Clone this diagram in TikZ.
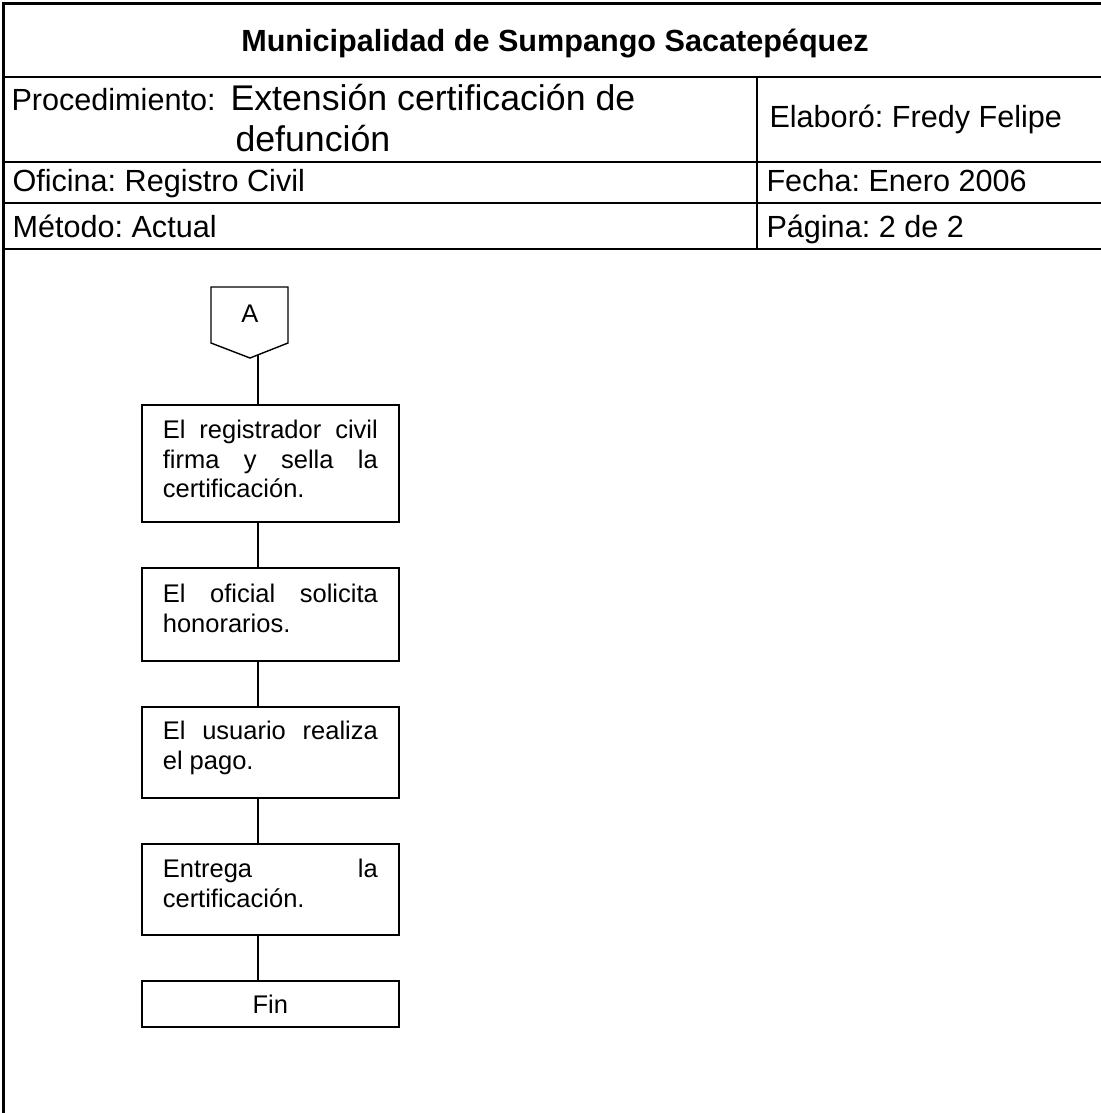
\documentclass[tikz,border=0pt]{standalone}
\usepackage{fontspec}
\setmainfont{Liberation Sans}
\frenchspacing
% one drawing unit of the sheet, used for TeX-side boxes
\newdimen\pxu
\pxu=0.39216pt
% justified step text: box height, first-baseline drop, text
\newcommand\flowtext[3]{%
  \parbox[c][#1\pxu][t]{215\pxu}{%
    \fontsize{10}{11.5}\selectfont
    \tolerance=10000 \hbadness=10000 \hyphenpenalty=10000 \exhyphenpenalty=10000
    \rule{0pt}{#2\pxu}#3\par}}
\begin{document}
\begin{tikzpicture}[x=0.39216pt, y=-0.39216pt,
  every node/.style={inner sep=0pt, font=\fontsize{12}{14}\selectfont},
  rule/.style={line width=1pt},
  cell/.style={anchor=base west},
  stepbox/.style={draw, line width=0.65pt, anchor=north west,
    inner xsep=8.235pt, inner ysep=0pt},
  endbox/.style={draw, line width=0.65pt, anchor=north west,
    minimum width=100.78pt, minimum height=18.04pt, inner sep=0pt,
    font=\fontsize{10}{11.5}\selectfont},
  conn/.style={line width=0.55pt}]
\useasboundingbox (0,0) rectangle (1101,1113);

% header table
\draw[rule] (3.5,1113) -- (3.5,3.5) -- (1101,3.5);
\draw[rule] (3.5,77) -- (1101,77);
\draw[rule] (3.5,162) -- (1101,162);
\draw[rule] (3.5,203) -- (1101,203);
\draw[rule] (3.5,249) -- (1101,249);
\draw[rule] (757,77) -- (757,249);

\node[anchor=base, font=\fontsize{12}{14}\selectfont\bfseries] (title) at (555,51)
  {Municipalidad de Sumpango Sacatepéquez};
\node[cell] (proclabel) at (11,110) {Procedimiento:};
\node[cell, font=\fontsize{14}{16}\selectfont] (procname1) at (230,110)
  {Extensión certificación de};
\node[cell, font=\fontsize{14}{16}\selectfont] (procname2) at (235,151) {defunción};
\node[cell] (author) at (769,127) {Elaboró: Fredy Felipe};
\node[cell] (office) at (12,191) {Oficina: Registro Civil};
\node[cell] (date) at (766,191) {Fecha: Enero 2006};
\node[cell] (method) at (12,237) {Método: Actual};
\node[cell] (page) at (766,237) {Página: 2 de 2};

% flowchart
\coordinate (spine) at (258,300);
\draw[conn] (211,287) -- (288,287) -- (288,343) -- (250,358) -- (211,343) -- cycle;
\node[font=\fontsize{10}{11.5}\selectfont] (offA) at (250,314) {A};
\coordinate (offA-out) at (258,354.8);

\node[stepbox] (b1) at (141,404)
  {\flowtext{117}{34}{El registrador civil\linebreak firma y sella la\linebreak certificación.}};
\node[stepbox] (b2) at (141,567)
  {\flowtext{93}{35}{El oficial solicita\linebreak honorarios.}};
\node[stepbox] (b3) at (141,706)
  {\flowtext{91}{33}{El usuario realiza\linebreak el pago.}};
\node[stepbox] (b4) at (141,843)
  {\flowtext{91}{34}{Entrega la\linebreak certificación.}};
\node[endbox] (fin) at (141,980) {Fin};

\draw[conn] (offA-out) -- (b1.north -| offA-out);
\draw[conn] (b1.south -| spine) -- (b2.north -| spine);
\draw[conn] (b2.south -| spine) -- (b3.north -| spine);
\draw[conn] (b3.south -| spine) -- (b4.north -| spine);
\draw[conn] (b4.south -| spine) -- (fin.north -| spine);
\end{tikzpicture}
\end{document}
